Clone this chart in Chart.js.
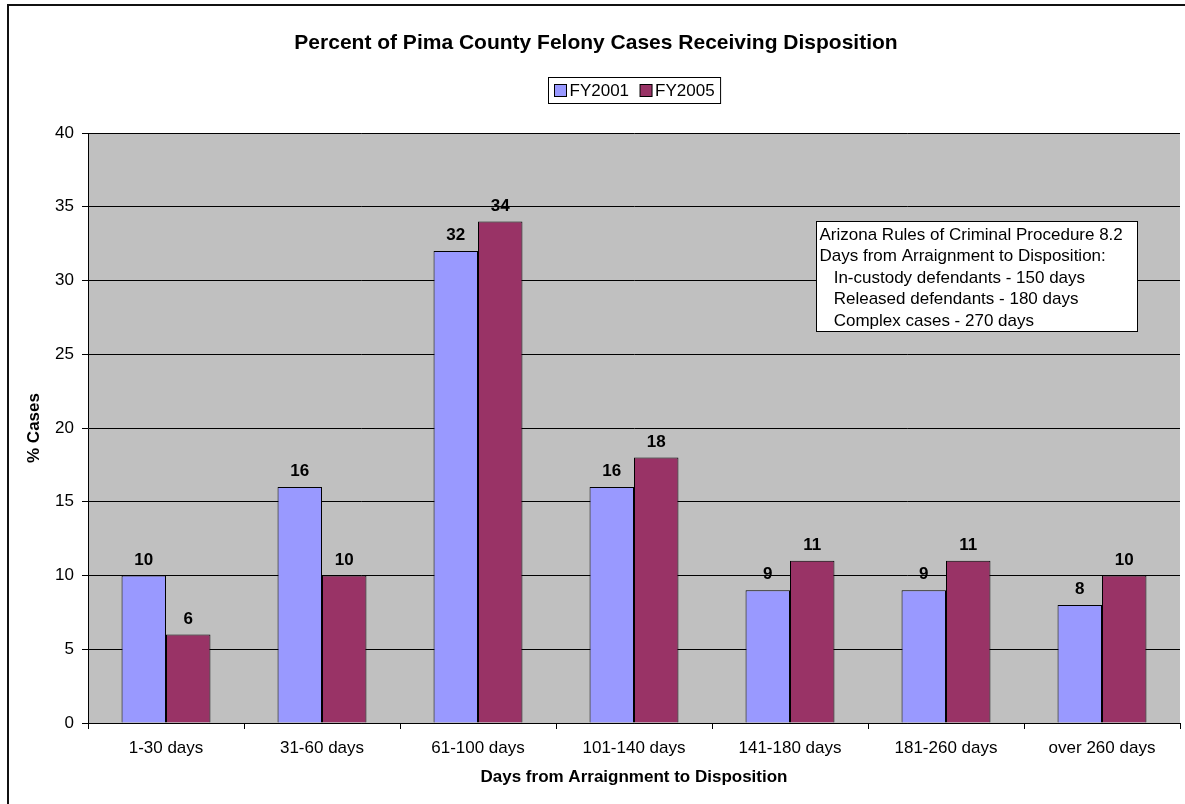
<!DOCTYPE html>
<html><head><meta charset="utf-8">
<script src="https://cdn.jsdelivr.net/npm/chart.js@4/dist/chart.umd.min.js"></script>
<style>html,body{margin:0;padding:0;background:#fff}#wrap{width:1185px;height:804px;position:relative}canvas{display:block}</style>
</head><body><div id="wrap"><canvas id="c" width="1185" height="804"></canvas></div>
<script>
const categories = ['1-30 days','31-60 days','61-100 days','101-140 days','141-180 days','181-260 days','over 260 days'];
const seriesNames = ['FY2001','FY2005'];
const fy2001 = [10,16,32,16,9,9,8];
const fy2005 = [6,10,34,18,11,11,10];
const yMin = 0, yMax = 40, yStep = 5;
const chartTitle = 'Percent of Pima County Felony Cases Receiving Disposition';
const xTitle = 'Days from Arraignment to Disposition';
const yTitle = '% Cases';
const noteLines = ['Arizona Rules of Criminal Procedure 8.2','Days from Arraignment to Disposition:','   In-custody defendants - 150 days','   Released defendants - 180 days','   Complex cases - 270 days'];
const colors = ['#9999FF','#993366'];

const FONT = '"Liberation Sans", Arial, sans-serif';

const deco = {
  id: 'deco',
  beforeDraw(chart) {
    const ctx = chart.ctx, ca = chart.chartArea;
    ctx.save();
    ctx.fillStyle = '#fff';
    ctx.fillRect(0,0,chart.width,chart.height);
    ctx.fillStyle = '#C0C0C0';
    ctx.fillRect(ca.left, ca.top, ca.right-ca.left, ca.bottom-ca.top);
    ctx.restore();
  },
  afterDatasetsDraw(chart) {
    const ctx = chart.ctx;
    ctx.save();
    ctx.font = 'bold 17px ' + FONT;
    ctx.fillStyle = '#000';
    ctx.textAlign = 'center';
    ctx.textBaseline = 'alphabetic';
    chart.data.datasets.forEach((ds, i) => {
      chart.getDatasetMeta(i).data.forEach((bar, j) => {
        ctx.fillText(String(ds.data[j]), bar.x, bar.y - 11);
      });
    });
    ctx.restore();
  },
  afterDraw(chart) {
    const ctx = chart.ctx, ca = chart.chartArea;
    const cx = (ca.left + ca.right) / 2;
    ctx.save();
    // outer frame (top and left)
    ctx.fillStyle = '#111';
    ctx.fillRect(7, 4, chart.width - 7, 2);
    ctx.fillRect(7, 4, 2, chart.height - 4);
    // title
    ctx.fillStyle = '#000';
    ctx.font = 'bold 21px ' + FONT;
    ctx.textAlign = 'center';
    ctx.textBaseline = 'middle';
    ctx.fillText(chartTitle, (7 + chart.width) / 2, 43);
    // axis titles
    ctx.font = 'bold 17px ' + FONT;
    ctx.fillText(xTitle, cx, 777);
    ctx.save();
    ctx.translate(34, (ca.top + ca.bottom) / 2);
    ctx.rotate(-Math.PI / 2);
    ctx.fillText(yTitle, 0, 0);
    ctx.restore();
    // legend
    ctx.font = '17px ' + FONT;
    ctx.textAlign = 'left';
    const sq = 12, pad = 6, gap = 3, sep = 11;
    const w0 = ctx.measureText(seriesNames[0]).width, w1 = ctx.measureText(seriesNames[1]).width;
    const total = pad + sq + gap + w0 + sep + sq + gap + w1 + pad;
    const lx = Math.round(cx - total / 2) + 0.5, ly = 77.5, lh = 26;
    ctx.fillStyle = '#fff';
    ctx.fillRect(lx, ly, total, lh);
    ctx.strokeStyle = '#000'; ctx.lineWidth = 1;
    ctx.strokeRect(lx, ly, total, lh);
    let x = lx + pad;
    const my = ly + lh / 2;
    [w0, w1].forEach((w, i) => {
      ctx.fillStyle = colors[i];
      ctx.fillRect(x, my - sq/2, sq, sq);
      ctx.strokeRect(x, my - sq/2, sq, sq);
      x += sq + gap;
      ctx.fillStyle = '#000';
      ctx.textBaseline = 'middle';
      ctx.fillText(seriesNames[i], x, my + 1);
      x += w + sep;
    });
    // note box
    const bx = ca.left + 728.5, by = ca.top + 88.5, bw = 321, bh = 110;
    ctx.fillStyle = '#fff';
    ctx.fillRect(bx, by, bw, bh);
    ctx.strokeStyle = '#000';
    ctx.strokeRect(bx, by, bw, bh);
    ctx.fillStyle = '#000';
    ctx.font = '17px ' + FONT;
    ctx.textBaseline = 'alphabetic';
    noteLines.forEach((t, i) => {
      ctx.fillText(t, bx + 3, by + 18 + i * 21.5);
    });
    ctx.restore();
  }
};

new Chart(document.getElementById('c'), {
  type: 'bar',
  data: {
    labels: categories,
    datasets: [
      { label: seriesNames[0], data: fy2001, backgroundColor: colors[0], borderColor: '#000', borderWidth: 1 },
      { label: seriesNames[1], data: fy2005, backgroundColor: colors[1], borderColor: '#000', borderWidth: 1 }
    ]
  },
  options: {
    responsive: false,
    animation: false,
    devicePixelRatio: 1,
    layout: { padding: { left: 0, right: 5, top: 133, bottom: 0 } },
    plugins: { legend: { display: false }, title: { display: false }, tooltip: { enabled: false } },
    datasets: { bar: { categoryPercentage: 0.57, barPercentage: 1.0 } },
    scales: {
      x: {
        grid: { offset: true, drawOnChartArea: false, drawTicks: true, tickLength: 6, color: '#000' },
        border: { display: true, color: '#000', width: 1 },
        ticks: { color: '#000', font: { family: FONT, size: 17 }, padding: 9, maxRotation: 0, autoSkip: false },
        afterFit(s) { s.height = 804 - 723; }
      },
      y: {
        min: yMin, max: yMax,
        grid: { color: '#000', lineWidth: 1, tickLength: 6, drawTicks: true },
        border: { display: true, color: '#000', width: 1 },
        ticks: { stepSize: yStep, color: '#000', font: { family: FONT, size: 17 }, padding: 8 },
        afterFit(s) { s.width = 88; }
      }
    }
  },
  plugins: [deco]
});
</script>
</body></html>
